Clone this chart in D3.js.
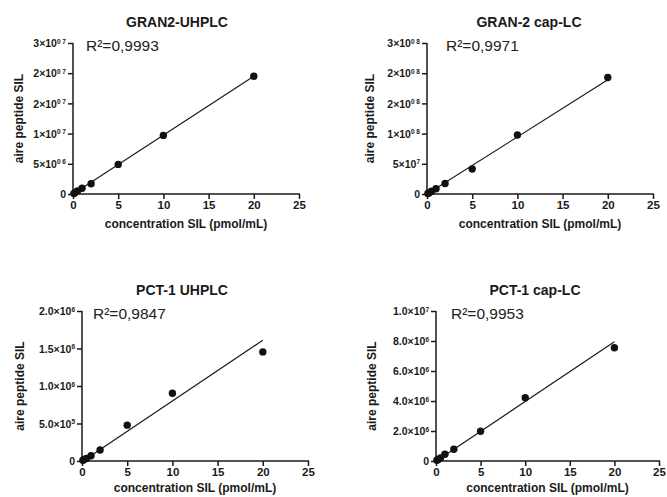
<!DOCTYPE html>
<html><head><meta charset="utf-8">
<script src="https://cdn.jsdelivr.net/npm/d3@7"></script>
<style>
body{margin:0;background:#fff;}
svg{display:block;font-family:"Liberation Sans",Arial,sans-serif;}
</style></head>
<body><svg id="c" width="667" height="497"></svg>
<script>
// ---- data ----
const titles = ["GRAN2-UHPLC", "GRAN-2 cap-LC", "PCT-1 UHPLC", "PCT-1 cap-LC"];
const r2Labels = ["R²=0,9993", "R²=0,9971", "R²=0,9847", "R²=0,9953"];
const xLabel = "concentration SIL (pmol/mL)";
const yLabel = "aire peptide SIL";
const concentrations = [0.1, 0.25, 0.5, 1, 2, 5, 10, 20];
const yGran2UHPLC = [0.1e6, 0.25e6, 0.5e6, 0.95e6, 1.7e6, 4.9e6, 9.7e6, 1.95e7];
const yGran2CapLC = [0.08e7, 0.2e7, 0.45e7, 0.88e7, 1.75e7, 4.14e7, 9.77e7, 1.93e8];
const yPct1UHPLC = [0.01e6, 0.02e6, 0.035e6, 0.07e6, 0.146e6, 0.478e6, 0.903e6, 1.455e6];
const yPct1CapLC = [0.05e6, 0.1e6, 0.2e6, 0.45e6, 0.78e6, 1.98e6, 4.22e6, 7.55e6];
const fitGran2UHPLC = [[0, 0], [20, 1.95e7]];
const fitGran2CapLC = [[0, 0], [20, 1.89e8]];
const fitPct1UHPLC = [[0, -0.01e6], [20, 1.61e6]];
const fitPct1CapLC = [[0, -0.02e6], [20, 7.95e6]];
const xTicks = [0, 5, 10, 15, 20, 25];
const yTicksGran2UHPLC = [0, 5e6, 1e7, 1.5e7, 2e7, 2.5e7];
const yTickLabelsGran2UHPLC = [["0", ""], ["5×10", "0 6"], ["1×10", "0 7"], ["2×10", "0 7"], ["2×10", "0 7"], ["3×10", "0 7"]];
const yTicksGran2CapLC = [0, 5e7, 1e8, 1.5e8, 2e8, 2.5e8];
const yTickLabelsGran2CapLC = [["0", ""], ["5×10", "7"], ["1×10", "0 8"], ["2×10", "0 8"], ["2×10", "0 8"], ["3×10", "0 8"]];
const yTicksPct1UHPLC = [0, 5e5, 1e6, 1.5e6, 2e6];
const yTickLabelsPct1UHPLC = [["0", ""], ["5.0×10", "5"], ["1.0×10", "6"], ["1.5×10", "6"], ["2.0×10", "6"]];
const yTicksPct1CapLC = [0, 2e6, 4e6, 6e6, 8e6, 1e7];
const yTickLabelsPct1CapLC = [["0", ""], ["2.0×10", "6"], ["4.0×10", "6"], ["6.0×10", "6"], ["8.0×10", "6"], ["1.0×10", "7"]];

// ---- layout ----
const panels = [
  {y: yGran2UHPLC, fit: fitGran2UHPLC, ticks: yTicksGran2UHPLC, labels: yTickLabelsGran2UHPLC,
   left: 73, right: 299, bottom: 194, top: 43, titleX: 177, r2X: 86, yLabX: 19, xLabDy: 34},
  {y: yGran2CapLC, fit: fitGran2CapLC, ticks: yTicksGran2CapLC, labels: yTickLabelsGran2CapLC,
   left: 427, right: 653, bottom: 194, top: 43, titleX: 529, r2X: 446, yLabX: 370, xLabDy: 34},
  {y: yPct1UHPLC, fit: fitPct1UHPLC, ticks: yTicksPct1UHPLC, labels: yTickLabelsPct1UHPLC,
   left: 82, right: 308, bottom: 461, top: 311, titleX: 182, r2X: 93, yLabX: 20, xLabDy: 31},
  {y: yPct1CapLC, fit: fitPct1CapLC, ticks: yTicksPct1CapLC, labels: yTickLabelsPct1CapLC,
   left: 436, right: 659, bottom: 461, top: 311, titleX: 535, r2X: 451, yLabX: 372, xLabDy: 31}
];

const svg = d3.select("#c");
const ink = "#1a1a1a";

panels.forEach((p, i) => {
  const ticks = p.ticks;
  const x = d3.scaleLinear().domain([0, 25]).range([p.left, p.right]);
  const y = d3.scaleLinear().domain([0, ticks[ticks.length - 1]]).range([p.bottom, p.top]);
  const g = svg.append("g");

  const xa = g.append("g").attr("transform", `translate(0,${p.bottom})`)
    .call(d3.axisBottom(x).tickValues(xTicks).tickSize(5).tickPadding(2).tickFormat(d3.format("d")));
  const ya = g.append("g").attr("transform", `translate(${p.left},0)`)
    .call(d3.axisLeft(y).tickValues(ticks).tickSize(5).tickPadding(2).tickFormat(""));
  [xa, ya].forEach(a => {
    a.select(".domain").attr("stroke", ink).attr("stroke-width", 1.5);
    a.selectAll(".tick line").attr("stroke", ink).attr("stroke-width", 1.5);
    a.selectAll("text").attr("fill", ink).attr("font-size", 11.5).attr("font-weight", "bold")
      .attr("font-family", "'Liberation Sans',Arial,sans-serif");
  });
  xa.select(".domain").attr("d", `M${p.left},0H${p.right + 1}`);
  ya.select(".domain").attr("d", `M0,${p.bottom}V${p.top}`);

  ya.selectAll(".tick").each(function(d, k) {
    const t = d3.select(this).select("text").attr("x", -7).attr("dy", "0.35em").attr("font-size", 10.5);
    const lab = p.labels[k];
    t.append("tspan").text(lab[0]);
    if (lab[1]) t.append("tspan").attr("font-size", 6.5).attr("dy", "-0.55em").text(lab[1]);
  });

  g.append("line")
    .attr("x1", x(p.fit[0][0])).attr("y1", y(p.fit[0][1]))
    .attr("x2", x(p.fit[1][0])).attr("y2", y(p.fit[1][1]))
    .attr("stroke", ink).attr("stroke-width", 1.2);

  g.selectAll("circle").data(concentrations).join("circle")
    .attr("cx", d => x(d)).attr("cy", (d, k) => y(p.y[k])).attr("r", 3.7).attr("fill", "#111");

  g.append("text").attr("x", p.titleX).attr("y", p.top - 16).attr("text-anchor", "middle")
    .attr("font-size", 14).attr("font-weight", "bold").attr("fill", ink).text(titles[i]);
  g.append("text").attr("x", p.r2X).attr("y", p.top + 8).attr("font-size", 15.5)
    .attr("fill", "#222").text(r2Labels[i]);
  g.append("text").attr("x", (p.left + p.right) / 2).attr("y", p.bottom + p.xLabDy).attr("text-anchor", "middle")
    .attr("font-size", 12).attr("font-weight", "bold").attr("fill", ink).text(xLabel);
  g.append("text").attr("transform", `translate(${p.yLabX + 4},${(p.top + p.bottom) / 2}) rotate(-90)`)
    .attr("text-anchor", "middle").attr("font-size", 12).attr("font-weight", "bold").attr("fill", ink).text(yLabel);
});
</script></body></html>
